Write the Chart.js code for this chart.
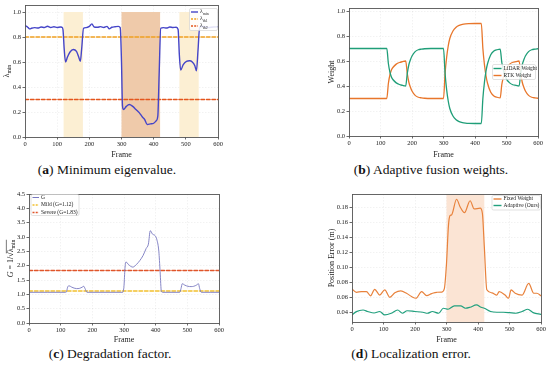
<!DOCTYPE html>
<html><head><meta charset="utf-8">
<script src="https://cdn.jsdelivr.net/npm/chart.js@4.4.0/dist/chart.umd.min.js"></script>
<style>
html,body{margin:0;padding:0;background:#fff;width:550px;height:367px;overflow:hidden;position:relative;}
canvas{position:absolute;}
.cap{position:absolute;font-family:"Liberation Serif","Times New Roman",serif;font-size:13.5px;line-height:16px;color:#111;white-space:nowrap;transform:translateX(-50%);}
</style></head><body>
<canvas id="ca" width="275" height="160" style="left:0;top:0;"></canvas>
<canvas id="cb" width="275" height="160" style="left:275px;top:0;"></canvas>
<canvas id="cc" width="275" height="165" style="left:0;top:180px;"></canvas>
<canvas id="cd" width="275" height="165" style="left:275px;top:180px;"></canvas>
<div class="cap" style="left:107px;top:162px;">(<b>a</b>) Minimum eigenvalue.</div>
<div class="cap" style="left:431px;top:162px;">(<b>b</b>) Adaptive fusion weights.</div>
<div class="cap" style="left:110px;top:346px;">(<b>c</b>) Degradation factor.</div>
<div class="cap" style="left:411px;top:346px;">(<b>d</b>) Localization error.</div>
<script>
// ---------- data ----------
const xTicks = [0,100,200,300,400,500,600];

// (a) minimum eigenvalue
const framesA = [0,5,10,15,20,30,40,50,60,70,80,90,100,110,115,118,122,126,132,140,150,160,167,172,176,182,190,200,208,215,225,235,245,255,262,270,280,290,296,300,303,306,315,324,335,345,355,365,372,380,390,400,408,413,417,422,430,440,450,460,470,476,480,484,492,502,512,520,528,533,538,543,555,570,585,600];
const lambdaMin = [0.89,0.885,0.875,0.865,0.87,0.875,0.872,0.88,0.876,0.886,0.876,0.882,0.876,0.88,0.878,0.86,0.70,0.60,0.64,0.68,0.70,0.685,0.64,0.605,0.70,0.87,0.875,0.885,0.905,0.88,0.878,0.883,0.876,0.885,0.865,0.878,0.882,0.885,0.875,0.60,0.25,0.22,0.245,0.26,0.245,0.22,0.195,0.16,0.14,0.10,0.105,0.11,0.13,0.17,0.50,0.87,0.875,0.872,0.88,0.876,0.878,0.86,0.65,0.535,0.58,0.605,0.61,0.60,0.57,0.53,0.70,0.88,0.885,0.875,0.88,0.882];
const thrFrames = [0,600];
const lambdaTh1 = [0.8,0.8];
const lambdaTh2 = [0.3,0.3];
const mildSpans = [[120,180],[480,540]];
const severeSpans = [[300,420]];
const yTicksA = [0,0.2,0.4,0.6,0.8,1.0];

// (b) fusion weights
const framesB = [0,110,120,125,130,135,140,150,160,170,180,185,190,195,200,210,220,230,240,260,300,305,310,315,320,330,340,350,360,370,380,400,420,425,430,435,440,450,460,470,480,485,490,495,500,510,520,530,540,545,550,555,560,570,580,590,600];
const lidarW = [0.70,0.70,0.70,0.58,0.51,0.47,0.45,0.425,0.412,0.405,0.40,0.50,0.57,0.61,0.64,0.675,0.69,0.695,0.698,0.70,0.70,0.50,0.37,0.28,0.22,0.16,0.13,0.115,0.107,0.103,0.101,0.10,0.10,0.30,0.43,0.52,0.58,0.65,0.68,0.69,0.695,0.59,0.53,0.485,0.455,0.425,0.41,0.405,0.40,0.50,0.57,0.61,0.64,0.675,0.69,0.695,0.698];
const rtkW = [0.30,0.30,0.30,0.42,0.49,0.53,0.55,0.575,0.588,0.595,0.60,0.50,0.43,0.39,0.36,0.325,0.31,0.305,0.302,0.30,0.30,0.50,0.63,0.72,0.78,0.84,0.87,0.885,0.893,0.897,0.899,0.90,0.90,0.70,0.57,0.48,0.42,0.35,0.32,0.31,0.305,0.41,0.47,0.515,0.545,0.575,0.59,0.595,0.60,0.50,0.43,0.39,0.36,0.325,0.31,0.305,0.302];
const yTicksB = [0,0.2,0.4,0.6,0.8,1.0];

// (c) degradation factor
const framesC = [0,115,118,122,126,135,150,160,168,173,177,183,296,300,303,306,315,328,340,350,360,370,377,383,390,398,404,410,414,418,422,476,480,484,492,502,512,520,530,535,539,544,600];
const gFactor = [1.07,1.07,1.08,1.25,1.30,1.25,1.20,1.21,1.25,1.28,1.20,1.07,1.07,1.30,1.90,2.13,2.03,1.95,2.05,2.18,2.35,2.60,2.75,3.22,3.10,3.05,2.90,2.50,1.80,1.10,1.07,1.07,1.20,1.37,1.32,1.28,1.27,1.28,1.33,1.37,1.20,1.07,1.07];
const gMild = [1.12,1.12];
const gSevere = [1.83,1.83];
const yTicksC = [0,0.5,1.0,1.5,2.0,2.5,3.0,3.5,4.0,4.5];

// (d) localization error
const framesD = [0,14,30,46,59,72,88,104,120,136,155,173,189,203,221,237,253,269,285,293,300,306,311,316,332,343,357,375,388,407,414,420,428,444,460,467,486,497,505,518,540,561,577,587,600];
const fixedErr = [0.071,0.0667,0.0676,0.0676,0.062,0.0707,0.063,0.070,0.060,0.066,0.0685,0.0654,0.061,0.0587,0.0676,0.0623,0.065,0.0667,0.067,0.0712,0.105,0.1546,0.169,0.170,0.191,0.181,0.173,0.189,0.178,0.179,0.172,0.128,0.070,0.066,0.063,0.0676,0.063,0.0587,0.0698,0.0654,0.063,0.0787,0.0654,0.0654,0.062];
const framesE = [0,14,35,50,70,88,104,125,145,160,175,200,225,240,255,275,290,305,325,345,360,375,395,410,420,440,460,480,500,520,540,558,575,600];
const adaptErr = [0.0364,0.0409,0.043,0.041,0.039,0.041,0.0364,0.0387,0.043,0.0387,0.042,0.041,0.040,0.0387,0.041,0.0387,0.0454,0.044,0.0485,0.0485,0.0454,0.0467,0.0498,0.0467,0.0454,0.041,0.040,0.040,0.0395,0.0387,0.041,0.044,0.0395,0.0373];
const errSpans = [[300,420]];
const yTicksD = [0.04,0.06,0.08,0.10,0.12,0.14,0.16,0.18];

// ---------- helpers ----------
const FAM = '"Liberation Serif","Times New Roman",serif';
const pts = (xs, ys) => xs.map((x,i)=>({x:x, y:ys[i]}));

function parseRich(s){
  const parts=[]; const re=/_\{([^}]*)\}/g; let last=0, m;
  while((m=re.exec(s))){ if(m.index>last) parts.push({t:s.slice(last,m.index)}); parts.push({t:m[1],sub:true}); last=re.lastIndex; }
  if(last<s.length) parts.push({t:s.slice(last)});
  return parts;
}
function pfont(p,size){ return (p.it?'italic ':'')+(p.sub?size*0.7:size)+'px '+FAM; }
function richWidth(ctx,parts,size){ let w=0; parts.forEach(p=>{ctx.font=pfont(p,size); w+=ctx.measureText(p.t).width;}); return w; }
function drawRich(ctx,parts,x,y,size,color){
  ctx.fillStyle=color; ctx.strokeStyle=color; ctx.textBaseline='middle'; ctx.textAlign='left';
  let cx=x, ox0=null, ox1=null;
  parts.forEach(p=>{
    ctx.font=pfont(p,size);
    const dy=p.sub?size*0.32:0;
    ctx.fillText(p.t,cx,y+dy);
    const w=ctx.measureText(p.t).width;
    if(p.over){ if(ox0===null) ox0=cx; ox1=cx+w; }
    cx+=w;
  });
  if(ox0!==null){ ctx.lineWidth=0.6; ctx.beginPath(); ctx.moveTo(ox0-1,y-size*0.58); ctx.lineTo(ox1,y-size*0.58); ctx.stroke(); }
}

function decoPlugin(cfg){
  return {
    id:'deco',
    beforeDatasetsDraw(chart){
      const ctx=chart.ctx, a=chart.chartArea, x=chart.scales.x, y=chart.scales.y;
      ctx.save(); ctx.beginPath(); ctx.rect(a.left,a.top,a.right-a.left,a.bottom-a.top); ctx.clip();
      (cfg.spans||[]).forEach(s=>{
        const x0=x.getPixelForValue(s.from), x1=x.getPixelForValue(s.to);
        const yt = s.yTop!=null ? y.getPixelForValue(s.yTop) : a.top;
        const yb = s.yBot!=null ? y.getPixelForValue(s.yBot) : a.bottom;
        ctx.fillStyle=s.color; ctx.fillRect(x0,yt,x1-x0,yb-yt);
      });
      ctx.restore();
    },
    afterDraw(chart){
      const ctx=chart.ctx, a=chart.chartArea;
      ctx.save();
      ctx.strokeStyle='#555'; ctx.lineWidth=0.9;
      ctx.strokeRect(Math.round(a.left)+0.5,Math.round(a.top)+0.5,Math.round(a.right-a.left),Math.round(a.bottom-a.top));
      const L=cfg.legend;
      if(L){
        ctx.fillStyle='rgba(255,255,255,0.85)'; ctx.strokeStyle='#cfcfcf'; ctx.lineWidth=0.6;
        ctx.beginPath(); if(ctx.roundRect) ctx.roundRect(L.x+0.5,L.y+0.5,L.w,L.h,1.5); else ctx.rect(L.x+0.5,L.y+0.5,L.w,L.h);
        ctx.fill(); ctx.stroke();
        L.items.forEach((it,i)=>{
          const yy=L.rowY[i];
          ctx.strokeStyle=it.color; ctx.lineWidth=it.lw||1.4; ctx.setLineDash(it.dash||[]);
          ctx.beginPath(); ctx.moveTo(L.lx0,yy); ctx.lineTo(L.lx1,yy); ctx.stroke(); ctx.setLineDash([]);
          drawRich(ctx,parseRich(it.text),L.tx,yy,L.size,'#222');
        });
      }
      if(cfg.yTitle){
        const T=cfg.yTitle; const cy=(a.top+a.bottom)/2;
        ctx.translate(T.x,cy); ctx.rotate(-Math.PI/2);
        const w=richWidth(ctx,T.parts,T.size);
        drawRich(ctx,T.parts,-w/2,0,T.size,'#222');
      }
      ctx.restore();
    }
  };
}

function axisX(h, titlePad){
  return {
    type:'linear', min:0, max:600,
    afterBuildTicks:s=>{ s.ticks=xTicks.map(v=>({value:v})); },
    afterFit:s=>{ s.height=h; },
    ticks:{font:{family:FAM,size:6.5}, color:'#222', padding:1, maxRotation:0, autoSkip:false, callback:v=>String(v)},
    grid:{color:'rgba(0,0,0,0.10)', lineWidth:0.5, tickColor:'#444', tickLength:2.5, tickWidth:0.8, tickBorderDash:[]},
    border:{display:false, dash:[1.5,1.5]},
    title:{display:true, text:'Frame', font:{family:FAM,size:8}, color:'#222', padding:{top:titlePad,bottom:0}}
  };
}
function axisY(w, min, max, ticks, dec, title, titlePad){
  return {
    type:'linear', min:min, max:max,
    afterBuildTicks:s=>{ s.ticks=ticks.map(v=>({value:v})); },
    afterFit:s=>{ s.width=w; },
    ticks:{font:{family:FAM,size:6.5}, color:'#222', padding:1.5, autoSkip:false, callback:v=>Number(v).toFixed(dec)},
    grid:{color:'rgba(0,0,0,0.10)', lineWidth:0.5, tickColor:'#444', tickLength:2.5, tickWidth:0.8, tickBorderDash:[]},
    border:{display:false, dash:[1.5,1.5]},
    title:{display:!!title, text:title||'', font:{family:FAM,size:8}, color:'#222', padding:{top:titlePad,bottom:0}}
  };
}
function baseOpts(pad, xs, ys){
  return {
    responsive:false, animation:false, devicePixelRatio:1, events:[],
    layout:{padding:pad},
    plugins:{legend:{display:false}, tooltip:{enabled:false}},
    elements:{point:{radius:0}, line:{cubicInterpolationMode:'monotone', borderCapStyle:'round', borderJoinStyle:'round'}},
    scales:{x:xs, y:ys}
  };
}

// ---------- (a) ----------
new Chart(document.getElementById('ca'), {
  type:'line',
  data:{datasets:[
    {data:pts(framesA,lambdaMin), borderColor:'#4545c8', borderWidth:1.4},
    {data:pts(thrFrames,lambdaTh1), borderColor:'#f0a020', borderWidth:1.5, borderDash:[3.5,2]},
    {data:pts(thrFrames,lambdaTh2), borderColor:'#e4551c', borderWidth:1.5, borderDash:[3.5,2]}
  ]},
  options:baseOpts({left:0,right:57,top:5,bottom:0}, axisX(23,5), axisY(25,0,1.053,yTicksA,1,'',0)),
  plugins:[decoPlugin({
    spans: mildSpans.map(s=>({from:s[0],to:s[1],yTop:1,yBot:0,color:'#fcefd3'}))
           .concat(severeSpans.map(s=>({from:s[0],to:s[1],yTop:1,yBot:0,color:'#efcaaa'}))),
    legend:{x:189,y:8,w:28,h:22,lx0:191,lx1:198,tx:200,size:5.5,rowY:[12,19,26],
      items:[{text:'λ_{min}',color:'#4545c8'},{text:'λ_{th1}',color:'#f0a020',dash:[2,1.2]},{text:'λ_{th2}',color:'#e4551c',dash:[2,1.2]}]},
    yTitle:{x:7,size:8,parts:[{t:'λ'},{t:'min',sub:true}]}
  })]
});

// ---------- (b) ----------
new Chart(document.getElementById('cb'), {
  type:'line',
  data:{datasets:[
    {data:pts(framesB,lidarW), borderColor:'#1f9e78', borderWidth:1.3},
    {data:pts(framesB,rtkW), borderColor:'#e8762b', borderWidth:1.3}
  ]},
  options:baseOpts({left:50,right:12,top:8,bottom:0}, axisX(24,4.5), axisY(24,0,1.024,yTicksB,1,'Weight',2.2)),
  plugins:[decoPlugin({
    legend:{x:217,y:64,w:43,h:15,lx0:218.5,lx1:226.5,tx:228.5,size:5.5,rowY:[68.5,75.5],
      items:[{text:'LiDAR Weight',color:'#1f9e78'},{text:'RTK Weight',color:'#e8762b'}]}
  })]
});

// ---------- (c) ----------
new Chart(document.getElementById('cc'), {
  type:'line',
  data:{datasets:[
    {data:pts(framesC,gFactor), borderColor:'#7878c0', borderWidth:0.9},
    {data:pts(thrFrames,gMild), borderColor:'#f2c02e', borderWidth:1.5, borderDash:[3.5,2]},
    {data:pts(thrFrames,gSevere), borderColor:'#e0552a', borderWidth:1.5, borderDash:[3.5,2]}
  ]},
  options:baseOpts({left:0,right:56,top:14,bottom:0}, axisX(22,5.2), axisY(29,0,4.5,yTicksC,1,'',0)),
  plugins:[decoPlugin({
    legend:{x:30.5,y:14,w:48,h:21,lx0:32.5,lx1:39,tx:41,size:5.5,rowY:[17.5,25,32.5],
      items:[{text:'G',color:'#7878c0',lw:1.0},{text:'Mild (G=1.12)',color:'#f2c02e',dash:[2,1.2]},{text:'Severe (G=1.83)',color:'#e0552a',dash:[2,1.2]}]},
    yTitle:{x:11,size:8,parts:[{t:'G',it:true},{t:' = 1/√'},{t:'λ',over:true},{t:'min',sub:true,over:true}]}
  })]
});

// ---------- (d) ----------
new Chart(document.getElementById('cd'), {
  type:'line',
  data:{datasets:[
    {data:pts(framesD,fixedErr), borderColor:'#e8823c', borderWidth:1.2},
    {data:pts(framesE,adaptErr), borderColor:'#22a07e', borderWidth:1.2}
  ]},
  options:baseOpts({left:50,right:9,top:14,bottom:0}, axisX(23,4.2), axisY(27,0.027,0.198,yTicksD,2,'Position Error (m)',2.2)),
  plugins:[decoPlugin({
    spans: errSpans.map(s=>({from:s[0],to:s[1],color:'#fbe4d4'})),
    legend:{x:216.5,y:15,w:48.5,h:14.5,lx0:218.5,lx1:226.5,tx:228.5,size:5.5,rowY:[19,25.5],
      items:[{text:'Fixed Weight',color:'#e8823c'},{text:'Adaptive (Ours)',color:'#22a07e'}]}
  })]
});
</script>
</body></html>
